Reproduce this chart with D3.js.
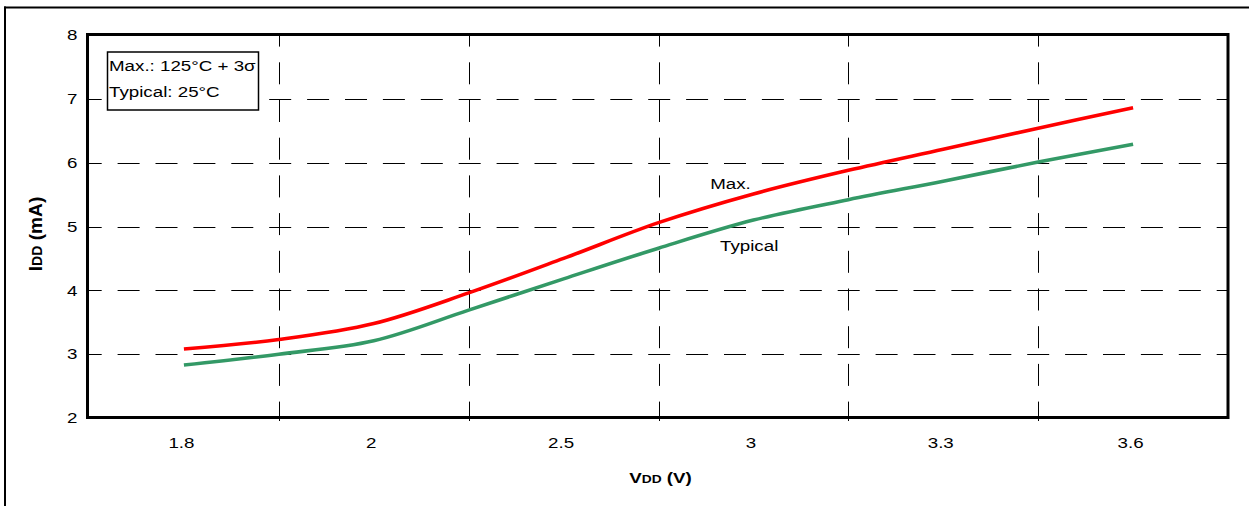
<!DOCTYPE html>
<html>
<head>
<meta charset="utf-8">
<script src="https://cdn.jsdelivr.net/npm/d3@7"></script>
<style>
  html, body { margin: 0; padding: 0; background: #fff; }
  svg { display: block; }
  text { font-family: "Liberation Sans", Arial, sans-serif; fill: #000; }
</style>
</head>
<body>
<svg id="chart" width="1249" height="506"></svg>
<script>
// ---- data ----
const xCategories = [1.8, 2, 2.5, 3, 3.3, 3.6];
const xTickLabels = ["1.8", "2", "2.5", "3", "3.3", "3.6"];
const yTicks = [2, 3, 4, 5, 6, 7, 8];
const vdd = [1.8, 1.9, 2.0, 2.25, 2.5, 2.75, 3.0, 3.15, 3.3, 3.45, 3.6];
const maxIdd = [3.08, 3.23, 3.48, 3.96, 4.50, 5.06, 5.51, 5.88, 6.21, 6.54, 6.86];
const typIdd = [2.83, 3.00, 3.21, 3.69, 4.18, 4.66, 5.10, 5.42, 5.71, 6.01, 6.29];
const legendLines = ["Max.: 125°C + 3σ", "Typical: 25°C"];
const curveLabels = [
  { text: "Max.", vdd: 2.886, idd: 5.59 },
  { text: "Typical", vdd: 2.912, idd: 4.615 }
];

// ---- layout ----
const svg = d3.select("#chart");
const pLeft = 89, pRight = 1228, pTop = 35, pBottom = 418;
const SX = 1.25; // horizontal text stretch of the original
const band = (pRight - pLeft) / xCategories.length;
const xCenters = xCategories.map((d, i) => pLeft + band * (i + 0.5));
const x = d3.scaleLinear().domain(xCategories).range(xCenters);
const y = d3.scaleLinear().domain([2, 8]).range([pBottom, pTop]);

// outer frame
svg.append("line").attr("x1", 4).attr("x2", 1249).attr("y1", 7.5).attr("y2", 7.5)
  .attr("stroke", "#000").attr("stroke-width", 2);
svg.append("line").attr("x1", 5).attr("x2", 5).attr("y1", 6.5).attr("y2", 506)
  .attr("stroke", "#000").attr("stroke-width", 2);

// gridlines
const grid = svg.append("g");
const yGrid = yTicks.filter(v => v > 2 && v < 8);
grid.selectAll("line.h").data(yGrid).join("line")
  .attr("x1", pLeft).attr("x2", pRight)
  .attr("y1", d => Math.round(y(d)) + 0.5).attr("y2", d => Math.round(y(d)) + 0.5)
  .attr("stroke", "#000").attr("stroke-width", 1)
  .attr("stroke-dasharray", "22,15.9").attr("stroke-dashoffset", 9.3);
const xBounds = xCenters.slice(0, -1).map((c, i) => (c + xCenters[i + 1]) / 2);
grid.selectAll("line.v").data(xBounds).join("line")
  .attr("x1", d => Math.round(d) + 0.5).attr("x2", d => Math.round(d) + 0.5)
  .attr("y1", pBottom + 3).attr("y2", pTop)
  .attr("stroke", "#000").attr("stroke-width", 1)
  .attr("stroke-dasharray", "22,15.7").attr("stroke-dashoffset", 2.6);

// curves
const line = d3.line().x(d => x(d[0])).y(d => y(d[1])).curve(d3.curveCatmullRom.alpha(0.5));
svg.append("path").datum(vdd.map((v, i) => [v, typIdd[i]]))
  .attr("d", line).attr("fill", "none").attr("stroke", "#339966").attr("stroke-width", 3.6);
svg.append("path").datum(vdd.map((v, i) => [v, maxIdd[i]]))
  .attr("d", line).attr("fill", "none").attr("stroke", "#ff0000").attr("stroke-width", 3.6);

// plot border
svg.append("rect").attr("x", 87.5).attr("y", 34.5).attr("width", pRight - 87.5).attr("height", 417.5 - 34.5)
  .attr("fill", "none").attr("stroke", "#000").attr("stroke-width", 3);

// axes
const xAxis = svg.append("g").attr("transform", `translate(0,${pBottom})`)
  .call(d3.axisBottom(x).tickValues(xCategories).tickFormat((d, i) => xTickLabels[i]).tickSize(0));
xAxis.select(".domain").remove();
xAxis.selectAll("text")
  .attr("font-size", 15).attr("font-family", "Liberation Sans, Arial, sans-serif")
  .attr("y", 19).attr("x", -3 / SX).attr("transform", `scale(${SX},1)`);

const yAxis = svg.append("g").attr("transform", `translate(${pLeft},0)`)
  .call(d3.axisLeft(y).tickValues(yTicks).tickFormat(d3.format("d")).tickSize(0));
yAxis.select(".domain").remove();
yAxis.selectAll("text")
  .attr("font-size", 15).attr("font-family", "Liberation Sans, Arial, sans-serif")
  .attr("x", -11.7 / SX).attr("transform", `scale(${SX},1)`);

// axis titles
const xt = svg.append("text").attr("text-anchor", "middle").attr("font-weight", "bold")
  .attr("font-size", 15).attr("transform", `translate(${(pLeft + pRight) / 2 + 2},483) scale(${SX},1)`);
xt.append("tspan").text("V");
xt.append("tspan").attr("font-size", 11).text("DD");
xt.append("tspan").text(" (V)");

const yt = svg.append("text").attr("text-anchor", "middle").attr("font-weight", "bold")
  .attr("font-size", 15).attr("transform", `translate(41.5,234) scale(${SX},1.28) rotate(-90)`);
yt.append("tspan").text("I");
yt.append("tspan").attr("font-size", 11).text("DD");
yt.append("tspan").text(" (mA)");

// legend box
const lg = svg.append("g");
lg.append("rect").attr("x", 107.5).attr("y", 52).attr("width", 151).attr("height", 58)
  .attr("fill", "#fff").attr("stroke", "#000").attr("stroke-width", 1.5);
lg.selectAll("text").data(legendLines).join("text")
  .attr("font-size", 15)
  .attr("transform", (d, i) => `translate(109,${71 + i * 26}) scale(${SX},1)`)
  .text(d => d);

// curve labels
svg.selectAll("text.cl").data(curveLabels).join("text").attr("class", "cl")
  .attr("font-size", 15)
  .attr("transform", d => `translate(${x(d.vdd)},${y(d.idd)}) scale(${SX},1)`)
  .text(d => d.text);
</script>
</body>
</html>
